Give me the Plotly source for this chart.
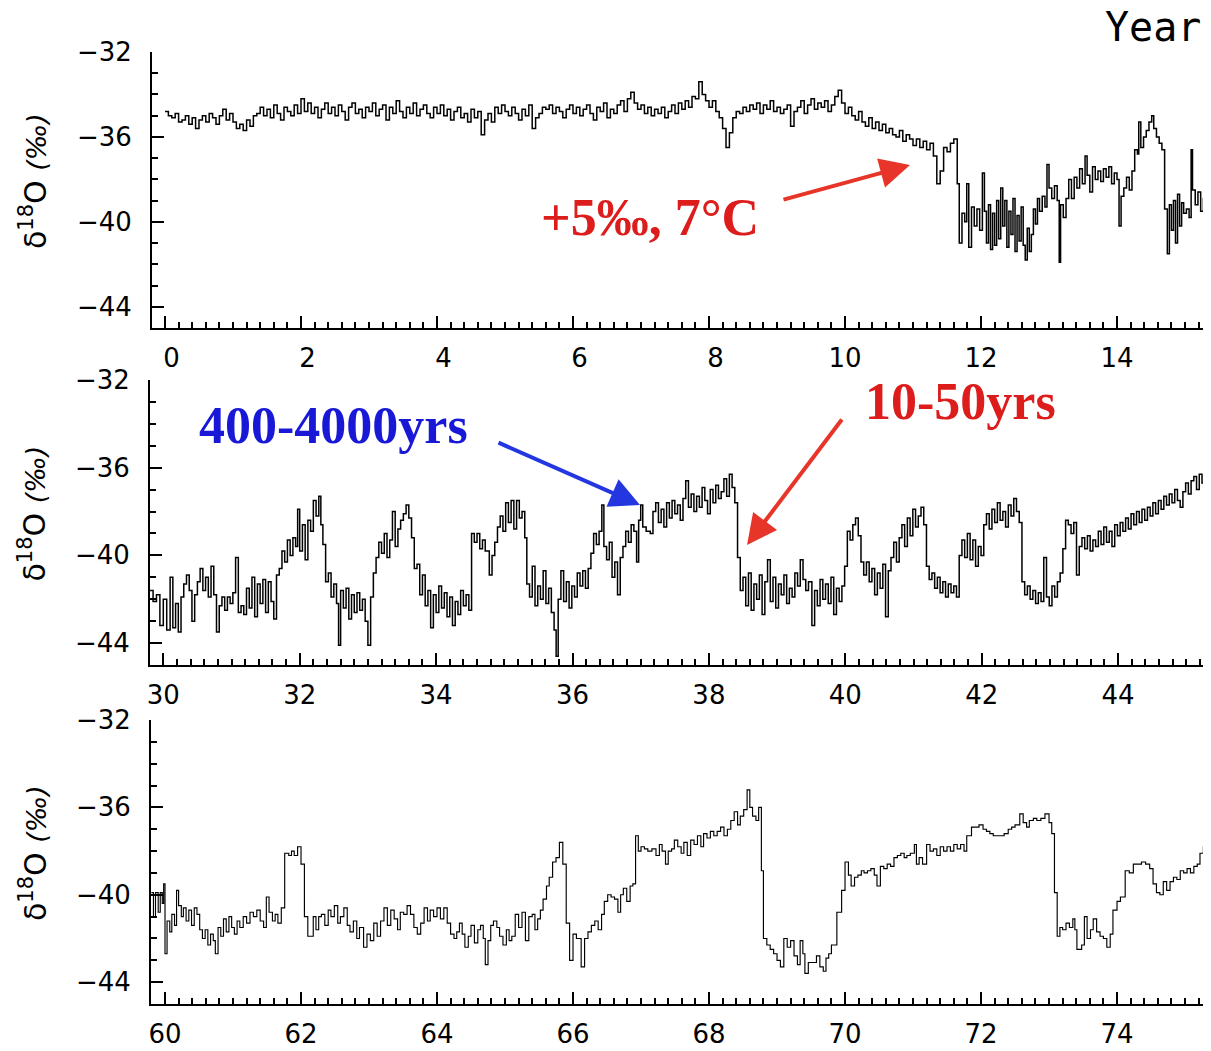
import plotly.graph_objects as go

# ---------------- Panel 1 : 0 - 15.4 kyr ----------------
age_1 = [
 0.00,0.05,0.10,0.15,0.20,0.25,0.30,0.35,0.40,0.45,0.50,0.55,0.60,0.65,0.70,0.75,0.80,0.85,0.90,0.95,
 1.00,1.05,1.10,1.15,1.20,1.25,1.30,1.35,1.40,1.45,1.50,1.55,1.60,1.65,1.70,1.75,1.80,1.85,1.90,1.95,
 2.00,2.05,2.10,2.15,2.20,2.25,2.30,2.35,2.40,2.45,2.50,2.55,2.60,2.65,2.70,2.75,2.80,2.85,2.90,2.95,
 3.00,3.05,3.10,3.15,3.20,3.25,3.30,3.35,3.40,3.45,3.50,3.55,3.60,3.65,3.70,3.75,3.80,3.85,3.90,3.95,
 4.00,4.05,4.10,4.15,4.20,4.25,4.30,4.35,4.40,4.45,4.50,4.55,4.60,4.65,4.70,4.75,4.80,4.85,4.90,4.95,
 5.00,5.05,5.10,5.15,5.20,5.25,5.30,5.35,5.40,5.45,5.50,5.55,5.60,5.65,5.70,5.75,5.80,5.85,5.90,5.95,
 6.00,6.05,6.10,6.15,6.20,6.25,6.30,6.35,6.40,6.45,6.50,6.55,6.60,6.65,6.70,6.75,6.80,6.85,6.90,6.95,
 7.00,7.05,7.10,7.15,7.20,7.25,7.30,7.35,7.40,7.45,7.50,7.55,7.60,7.65,7.70,7.75,7.80,7.85,7.90,7.95,
 8.00,8.05,8.10,8.15,8.20,8.25,8.30,8.35,8.40,8.45,8.50,8.55,8.60,8.65,8.70,8.75,8.80,8.85,8.90,8.95,
 9.00,9.05,9.10,9.15,9.20,9.25,9.30,9.35,9.40,9.45,9.50,9.55,9.60,9.65,9.70,9.75,9.80,9.85,9.90,9.95,
 10.00,10.05,10.10,10.15,10.20,10.25,10.30,10.35,10.40,10.45,10.50,10.55,10.60,10.65,10.70,10.75,10.80,10.85,10.90,10.95,
 11.00,11.05,11.10,11.15,11.20,11.25,11.30,11.35,11.40,11.45,11.50,11.55,11.60,
 11.65,11.68,11.72,11.76,11.79,11.82,11.86,11.90,11.94,11.98,
 12.02,12.05,12.08,12.11,12.14,12.17,12.20,12.23,12.26,12.29,
 12.32,12.35,12.38,12.41,12.44,12.47,12.50,12.53,12.56,12.59,
 12.62,12.65,12.68,12.71,12.74,12.77,12.80,12.83,12.86,12.90,
 12.94,12.97,13.00,13.04,13.08,13.12,13.15,13.17,13.21,13.25,
 13.29,13.33,13.37,13.41,13.45,13.49,13.53,13.56,13.60,13.64,
 13.68,13.72,13.76,13.80,13.84,13.88,13.92,13.96,14.00,14.03,
 14.06,14.10,14.14,14.18,14.22,14.26,14.30,14.32,14.35,14.39,
 14.43,14.47,14.51,14.54,14.58,14.62,14.66,14.70,14.74,14.77,
 14.80,14.83,14.86,14.89,14.92,14.95,14.98,15.02,15.06,15.09,
 15.11,15.15,15.19,15.23,15.27,15.31,15.34,15.38,
]
d18o_1 = [
 -34.8,-35.0,-35.1,-34.9,-35.3,-35.2,-35.0,-35.4,-35.1,-35.6,-35.2,-35.0,-35.3,-34.9,-35.1,-35.4,-35.0,-34.7,-35.2,-34.9,
 -35.3,-35.6,-35.4,-35.7,-35.2,-35.5,-35.0,-34.9,-34.6,-35.0,-34.7,-35.1,-34.5,-34.9,-35.2,-34.6,-34.8,-35.0,-34.5,-34.9,
 -34.2,-34.8,-34.4,-34.9,-34.6,-35.1,-34.7,-34.4,-34.9,-34.6,-35.0,-34.5,-34.8,-35.2,-34.6,-34.4,-34.9,-34.7,-35.1,-34.6,
 -34.8,-34.4,-35.0,-34.7,-34.5,-35.2,-34.6,-34.9,-34.3,-34.8,-35.1,-34.6,-34.9,-34.4,-35.0,-34.7,-34.5,-34.9,-35.1,-34.6,
 -34.9,-34.5,-35.0,-34.7,-35.2,-34.8,-34.6,-35.1,-34.9,-35.3,-34.7,-35.1,-34.8,-35.9,-35.2,-34.9,-35.3,-34.6,-34.9,-34.5,
 -34.8,-35.0,-34.6,-34.9,-35.2,-34.7,-35.0,-34.5,-35.6,-35.1,-34.9,-34.6,-34.7,-34.5,-34.9,-34.6,-34.8,-35.1,-34.7,-34.5,
 -34.9,-34.6,-35.0,-34.7,-34.5,-34.9,-35.2,-34.6,-34.8,-34.4,-35.1,-34.7,-34.9,-34.5,-34.3,-34.8,-34.2,-33.9,-34.4,-34.7,
 -34.5,-34.9,-34.6,-35.0,-34.7,-34.9,-34.6,-35.1,-34.8,-34.5,-34.9,-34.4,-34.7,-34.3,-34.6,-34.1,-34.2,-33.4,-34.0,-34.3,
 -34.6,-34.3,-34.8,-35.1,-35.6,-36.5,-35.8,-35.1,-34.8,-34.9,-34.6,-34.8,-34.5,-34.7,-34.4,-34.9,-34.5,-34.7,-34.3,-34.8,
 -34.6,-34.9,-34.7,-34.5,-35.5,-34.8,-34.6,-34.3,-34.9,-34.5,-34.2,-34.7,-34.4,-34.6,-34.3,-34.8,-34.5,-34.1,-33.8,-34.4,
 -34.9,-34.6,-35.0,-35.2,-34.8,-35.3,-35.5,-35.1,-35.6,-35.3,-35.7,-35.4,-35.8,-35.6,-35.9,-36.0,-35.7,-36.2,-35.9,-36.1,
 -36.4,-36.1,-36.5,-36.2,-36.6,-36.3,-36.9,-38.2,-37.6,-36.5,-36.7,-36.3,-36.1,
 -38.2,-41.0,-39.6,-40.0,-38.2,-41.2,-39.3,-40.2,-39.4,-40.4,
 -37.7,-39.5,-41.0,-39.2,-41.3,-39.6,-41.1,-39.0,-40.8,-38.4,
 -40.2,-39.0,-41.2,-39.5,-40.6,-38.9,-41.4,-39.7,-40.9,-39.3,
 -41.1,-41.8,-40.3,-41.4,-40.6,-39.4,-40.1,-38.9,-39.5,-38.8,
 -39.3,-37.3,-38.4,-38.9,-38.3,-39.0,-41.9,-39.2,-39.8,-38.9,
 -38.0,-38.9,-37.9,-38.4,-37.5,-38.2,-36.9,-37.8,-38.6,-37.4,
 -38.0,-37.6,-38.1,-37.5,-37.9,-37.4,-38.2,-37.7,-38.0,-40.2,
 -38.8,-38.4,-37.9,-38.5,-37.6,-36.6,-36.8,-35.3,-36.5,-36.0,
 -35.7,-35.3,-35.0,-35.6,-36.0,-36.3,-36.6,-39.4,-41.5,-39.2,
 -40.4,-39.0,-41.0,-38.7,-40.2,-39.1,-39.6,-39.4,-39.8,-36.6,
 -38.5,-39.2,-38.6,-39.5,-38.9,-40.8,-39.3,-40.0,
]

# ---------------- Panel 2 : 30 - 45.4 kyr ----------------
age_2 = [
 29.80,29.85,29.90,29.95,30.00,30.05,30.10,30.14,30.18,30.22,
 30.26,30.30,30.34,30.38,30.42,30.46,30.50,30.54,30.58,30.62,
 30.66,30.70,30.74,30.78,30.82,30.86,30.90,30.94,30.98,31.02,
 31.06,31.10,31.14,31.18,31.22,31.26,31.30,31.34,31.38,31.42,
 31.46,31.50,31.54,31.58,31.62,31.66,31.70,31.74,31.78,31.82,
 31.86,31.90,31.94,31.97,32.00,32.04,32.08,32.12,32.16,32.20,
 32.24,32.28,32.31,32.34,32.38,32.42,32.46,32.50,32.54,32.57,
 32.60,32.64,32.68,32.72,32.76,32.80,32.84,32.88,32.92,32.96,
 33.00,33.04,33.08,33.12,33.16,33.20,33.24,33.28,33.32,33.36,
 33.40,33.44,33.48,33.52,33.56,33.60,33.64,33.68,33.72,33.76,
 33.80,33.84,33.88,33.92,33.96,34.00,34.04,34.08,34.12,34.16,
 34.20,34.24,34.28,34.32,34.36,34.40,34.44,34.48,34.52,34.56,
 34.60,34.64,34.68,34.72,34.78,34.82,34.86,34.90,34.94,34.98,
 35.02,35.06,35.10,35.14,35.18,35.22,35.26,35.30,35.33,35.37,
 35.41,35.45,35.49,35.53,35.57,35.61,35.65,35.69,35.73,35.76,
 35.79,35.83,35.87,35.91,35.95,35.99,36.03,36.07,36.11,36.15,
 36.19,36.23,36.27,36.31,36.35,36.39,36.43,36.46,36.50,36.54,
 36.58,36.62,36.66,36.70,36.74,36.78,36.82,36.86,36.90,36.94,
 36.97,37.00,37.03,37.08,37.14,37.18,37.22,37.26,37.30,37.34,
 37.38,37.42,37.46,37.50,37.54,37.58,37.62,37.66,37.70,37.74,
 37.78,37.82,37.86,37.90,37.94,37.98,38.02,38.06,38.10,38.14,
 38.18,38.22,38.26,38.30,38.34,38.38,38.42,38.46,38.50,38.54,
 38.58,38.62,38.66,38.70,38.74,38.78,38.82,38.86,38.90,38.94,
 38.98,39.02,39.06,39.10,39.14,39.18,39.22,39.26,39.30,39.34,
 39.38,39.42,39.46,39.51,39.55,39.59,39.63,39.67,39.71,39.75,
 39.79,39.83,39.87,39.91,39.95,39.99,40.03,40.07,40.11,40.15,
 40.19,40.23,40.27,40.31,40.35,40.39,40.43,40.47,40.51,40.55,
 40.59,40.63,40.67,40.71,40.75,40.79,40.83,40.87,40.91,40.95,
 40.99,41.03,41.07,41.11,41.15,41.19,41.23,41.27,41.31,41.35,
 41.39,41.43,41.47,41.51,41.55,41.59,41.63,41.67,41.71,41.75,
 41.79,41.83,41.87,41.91,41.95,41.99,42.03,42.07,42.11,42.15,
 42.19,42.23,42.27,42.31,42.35,42.39,42.43,42.47,42.51,42.55,
 42.59,42.63,42.67,42.71,42.75,42.79,42.83,42.87,42.91,42.95,
 42.99,43.03,43.07,43.11,43.15,43.19,43.23,43.27,43.31,43.35,
 43.39,43.43,43.47,43.51,43.55,43.59,43.63,43.67,43.71,43.75,
 43.79,43.83,43.87,43.91,43.95,43.99,44.03,44.07,44.11,44.15,
 44.19,44.23,44.27,44.31,44.35,44.39,44.43,44.47,44.51,44.55,
 44.59,44.63,44.67,44.71,44.75,44.79,44.83,44.87,44.91,44.95,
 44.99,45.03,45.07,45.11,45.15,45.19,45.23,45.27,45.31,45.35,45.38,
]
d18o_2 = [
 -41.6,-42.1,-41.8,-43.2,-42.0,-43.4,-41.0,-43.3,-42.2,-43.5,
 -41.9,-41.3,-40.9,-41.6,-43.0,-41.8,-41.2,-40.6,-41.6,-41.0,
 -41.9,-40.5,-41.8,-43.5,-42.3,-41.9,-42.5,-41.9,-42.2,-41.7,
 -40.1,-42.6,-42.3,-42.7,-41.5,-42.4,-41.0,-42.8,-41.3,-42.2,
 -41.1,-42.6,-41.2,-42.1,-42.9,-40.9,-40.6,-39.8,-40.3,-39.3,
 -40.0,-39.2,-39.6,-37.9,-39.8,-38.6,-40.2,-38.4,-38.9,-37.5,
 -38.2,-37.3,-38.6,-39.5,-41.2,-40.8,-41.9,-41.3,-42.2,-44.1,
 -41.6,-42.4,-41.5,-42.9,-41.8,-42.6,-41.7,-42.5,-42.0,-43.0,
 -44.1,-41.9,-40.8,-40.1,-39.4,-39.9,-39.0,-40.1,-39.3,-38.0,
 -39.6,-38.8,-38.4,-38.1,-37.7,-38.3,-39.2,-40.6,-40.4,-41.8,
 -40.9,-42.3,-41.6,-43.3,-41.8,-42.6,-41.4,-42.4,-41.7,-42.8,
 -41.9,-43.2,-42.1,-42.7,-41.6,-42.3,-41.8,-42.5,-39.0,-39.4,
 -39.0,-39.7,-39.3,-39.8,-40.9,-40.0,-39.4,-38.7,-38.2,-38.9,
 -37.6,-38.5,-37.5,-38.8,-37.5,-38.3,-38.0,-39.2,-41.3,-41.9,
 -40.5,-42.3,-41.4,-42.0,-40.7,-42.2,-41.5,-42.6,-43.4,-44.6,
 -42.0,-40.7,-42.1,-41.2,-42.4,-41.4,-41.9,-40.8,-41.4,-40.7,
 -41.5,-40.6,-39.9,-39.0,-39.5,-38.9,-37.7,-39.6,-40.2,-39.4,
 -41.0,-40.3,-41.8,-40.1,-39.6,-38.9,-39.4,-38.6,-38.9,-40.3,
 -38.4,-37.7,-38.7,-38.9,-39.0,-38.0,-37.6,-38.5,-37.9,-38.7,
 -37.6,-38.3,-37.5,-38.1,-37.7,-38.4,-37.4,-36.6,-37.8,-37.2,
 -38.0,-37.3,-37.8,-36.9,-37.5,-38.1,-37.0,-37.6,-36.8,-37.4,
 -37.1,-36.5,-37.3,-36.3,-36.9,-37.6,-40.1,-41.6,-41.0,-42.3,
 -40.8,-42.5,-41.3,-42.0,-40.9,-42.7,-41.2,-40.2,-42.1,-41.0,
 -42.4,-41.3,-41.8,-40.9,-42.2,-41.5,-41.9,-40.8,-41.4,-40.2,
 -41.1,-41.6,-41.2,-43.2,-41.6,-42.3,-41.1,-42.0,-41.3,-42.2,
 -41.0,-42.7,-41.5,-42.1,-41.4,-40.5,-38.9,-39.3,-38.6,-38.3,
 -39.1,-40.3,-40.9,-40.3,-41.2,-40.6,-41.8,-40.8,-41.5,-40.4,
 -42.8,-40.7,-40.1,-39.4,-40.3,-39.2,-38.6,-39.6,-38.3,-39.1,
 -37.9,-38.7,-38.2,-37.8,-38.6,-40.5,-41.1,-40.8,-41.5,-41.0,
 -41.7,-41.2,-41.9,-41.3,-41.7,-41.4,-41.9,-40.0,-39.3,-40.1,
 -39.0,-40.2,-39.3,-40.5,-39.6,-40.0,-38.6,-38.1,-38.8,-37.9,
 -38.5,-37.6,-38.4,-38.0,-38.7,-37.7,-38.2,-37.4,-38.0,-38.5,
 -41.2,-41.8,-41.4,-42.0,-41.6,-42.2,-41.7,-42.1,-40.1,-41.9,
 -42.3,-41.4,-41.9,-41.2,-40.8,-39.7,-38.4,-38.6,-39.0,-38.5,
 -40.9,-39.6,-39.2,-39.7,-39.1,-39.8,-39.3,-39.6,-38.9,-39.5,
 -38.7,-39.4,-38.9,-39.6,-38.6,-39.1,-38.5,-38.9,-38.3,-38.8,
 -38.1,-38.6,-38.0,-38.5,-37.9,-38.4,-37.8,-38.2,-37.6,-38.1,
 -37.5,-37.9,-37.3,-37.7,-37.2,-37.6,-37.0,-37.5,-37.8,-37.1,
 -36.7,-37.2,-36.6,-36.4,-37.0,-36.3,-36.7,-36.2,-36.5,-38.4,-37.0,
]

# ---------------- Panel 3 : 60 - 75.4 kyr ----------------
age_3 = [
 59.80,59.83,59.86,59.90,59.93,59.96,59.98,60.00,60.03,60.07,
 60.10,60.14,60.17,60.20,60.24,60.27,60.31,60.35,60.39,60.43,
 60.47,60.51,60.55,60.59,60.63,60.67,60.71,60.74,60.78,60.82,
 60.86,60.90,60.94,60.98,61.02,61.06,61.10,61.15,61.20,61.25,
 61.30,61.35,61.40,61.45,61.49,61.53,61.58,61.62,61.66,61.71,
 61.76,61.82,61.86,61.90,61.95,62.00,62.05,62.10,62.18,62.22,
 62.26,62.30,62.35,62.40,62.44,62.49,62.54,62.58,62.63,62.68,
 62.72,62.77,62.82,62.86,62.92,62.97,63.02,63.07,63.12,63.17,
 63.22,63.27,63.32,63.37,63.42,63.46,63.51,63.56,63.61,63.66,
 63.71,63.76,63.81,63.86,63.90,63.95,64.00,64.05,64.10,64.15,
 64.20,64.25,64.29,64.33,64.37,64.41,64.46,64.50,64.55,64.60,
 64.64,64.68,64.71,64.75,64.79,64.83,64.88,64.92,64.97,65.02,
 65.06,65.10,65.15,65.20,65.25,65.30,65.35,65.40,65.44,65.48,
 65.52,65.56,65.61,65.65,65.70,65.75,65.80,65.85,65.90,65.95,
 66.00,66.05,66.12,66.17,66.22,66.27,66.32,66.37,66.42,66.46,
 66.51,66.56,66.61,66.66,66.70,66.74,66.79,66.84,66.88,66.92,
 66.96,67.00,67.05,67.10,67.16,67.22,67.27,67.31,67.36,67.40,
 67.45,67.49,67.54,67.59,67.63,67.68,67.73,67.78,67.83,67.88,
 67.92,67.97,68.02,68.07,68.12,68.17,68.22,68.27,68.32,68.37,
 68.42,68.46,68.51,68.56,68.60,68.64,68.69,68.73,68.77,68.80,
 68.85,68.90,68.95,69.00,69.05,69.10,69.15,69.20,69.25,69.30,
 69.34,69.38,69.41,69.46,69.52,69.58,69.63,69.68,69.72,69.76,
 69.80,69.88,69.95,70.00,70.05,70.09,70.14,70.19,70.24,70.28,
 70.33,70.38,70.43,70.47,70.52,70.57,70.62,70.67,70.72,70.77,
 70.82,70.87,70.91,70.96,71.02,71.05,71.09,71.14,71.20,71.25,
 71.30,71.35,71.40,71.45,71.50,71.55,71.60,71.65,71.70,71.75,
 71.79,71.86,71.92,71.97,72.03,72.08,72.13,72.18,72.23,72.28,
 72.34,72.40,72.45,72.50,72.57,72.62,72.67,72.71,72.77,72.82,
 72.88,72.94,73.00,73.04,73.08,73.12,73.16,73.20,73.25,73.30,
 73.35,73.38,73.41,73.48,73.52,73.56,73.61,73.65,73.70,73.75,
 73.80,73.85,73.90,73.94,74.00,74.05,74.12,74.18,74.24,74.30,
 74.36,74.42,74.48,74.53,74.58,74.63,74.68,74.73,74.78,74.83,
 74.88,74.93,74.98,75.03,75.08,75.13,75.18,75.22,75.27,75.32,75.38,
]
d18o_3 = [
 -39.9,-41.0,-39.9,-40.8,-39.9,-40.4,-39.5,-42.7,-41.2,-41.7,
 -40.9,-41.4,-39.8,-40.5,-41.0,-40.6,-41.2,-40.7,-41.4,-40.6,
 -40.9,-41.6,-42.0,-41.6,-42.3,-41.8,-42.1,-42.7,-41.5,-41.9,
 -41.1,-41.7,-41.0,-41.5,-41.8,-41.2,-41.5,-41.0,-41.3,-40.8,
 -41.0,-40.7,-41.2,-41.5,-40.1,-40.8,-41.2,-40.9,-41.3,-40.6,
 -38.1,-38.2,-38.0,-38.2,-37.8,-38.6,-41.0,-41.9,-41.0,-41.6,
 -41.0,-40.9,-41.4,-40.7,-41.0,-40.5,-41.3,-41.0,-40.6,-41.4,
 -41.7,-41.2,-42.0,-41.5,-42.4,-41.8,-42.1,-41.3,-41.9,-41.2,
 -40.6,-41.4,-40.7,-41.1,-41.6,-40.8,-40.9,-40.5,-40.9,-41.5,
 -41.8,-41.3,-40.6,-41.2,-40.7,-41.0,-40.6,-41.1,-40.6,-41.3,
 -41.8,-42.0,-41.7,-41.3,-41.8,-42.4,-41.9,-41.4,-42.2,-41.6,
 -41.4,-42.0,-43.2,-42.1,-41.4,-41.2,-41.5,-41.9,-42.3,-41.6,
 -42.1,-41.9,-40.9,-41.5,-40.8,-42.1,-41.0,-40.9,-41.6,-41.1,
 -40.7,-40.2,-39.6,-39.2,-38.5,-38.3,-37.6,-38.6,-41.3,-43.0,
 -41.8,-42.0,-43.3,-42.0,-41.7,-41.4,-41.2,-41.6,-40.9,-40.3,
 -40.0,-40.1,-40.2,-40.8,-40.0,-39.7,-40.3,-39.6,-39.5,-37.3,
 -38.0,-37.8,-37.9,-38.0,-37.9,-38.2,-37.7,-38.0,-38.6,-38.0,
 -37.9,-37.5,-37.8,-38.1,-37.6,-38.2,-37.5,-37.7,-37.3,-37.8,
 -37.2,-37.4,-37.1,-37.3,-37.1,-36.9,-37.3,-37.0,-36.6,-36.2,
 -36.8,-36.4,-36.1,-35.2,-36.0,-36.4,-36.6,-36.0,-38.9,-42.0,
 -42.3,-42.5,-42.7,-43.0,-43.3,-42.0,-42.4,-42.1,-42.8,-43.2,
 -42.1,-42.7,-43.6,-43.1,-43.1,-42.8,-43.3,-43.5,-42.9,-42.7,
 -42.3,-40.8,-39.8,-38.5,-39.1,-39.6,-39.2,-39.1,-38.9,-39.0,
 -38.9,-38.8,-39.1,-39.6,-38.7,-38.8,-38.6,-38.7,-38.3,-38.2,
 -38.1,-38.3,-38.2,-38.1,-37.7,-38.6,-38.3,-38.6,-37.7,-38.0,
 -37.9,-38.2,-37.8,-38.0,-37.8,-38.0,-37.7,-37.9,-37.7,-38.0,
 -37.3,-36.9,-36.9,-36.8,-37.0,-37.1,-37.2,-37.3,-37.3,-37.3,
 -37.2,-37.0,-36.9,-36.8,-36.3,-36.7,-36.9,-36.6,-36.5,-36.6,
 -36.5,-36.3,-36.7,-37.2,-39.9,-41.9,-41.5,-41.6,-41.3,-41.5,
 -41.1,-41.6,-42.5,-42.3,-41.0,-42.0,-41.6,-41.1,-41.7,-41.9,
 -42.0,-42.4,-41.8,-40.7,-40.3,-40.1,-38.9,-39.0,-38.6,-38.6,
 -38.5,-38.6,-38.8,-39.5,-39.9,-40.0,-39.4,-39.8,-39.4,-39.2,
 -39.3,-38.9,-39.0,-38.8,-39.0,-38.7,-38.6,-38.1,-37.8,-38.0,-38.0,
]

assert len(age_1) == len(d18o_1)
assert len(age_2) == len(d18o_2)
assert len(age_3) == len(d18o_3)

# x tick values / labels for each panel
xtick_vals = [
    [0, 2, 4, 6, 8, 10, 12, 14],
    [30, 32, 34, 36, 38, 40, 42, 44],
    [60, 62, 64, 66, 68, 70, 72, 74],
]
# single-digit labels sit a little right of their tick in the original
xtick_text = [
    ["\u2002" + str(v) if v < 10 else str(v) for v in vals] for vals in xtick_vals
]
panel_starts = [0, 30, 60]
x_ranges = [[-0.191, 15.382], [29.805, 45.362], [59.794, 75.382]]
y_range = [-45, -32]

# The page body has an 8 px margin, so the figure is drawn 8 px in from the
# top-left corner; size it to fill the rest of the 1211 x 1051 window.
OFF = 8
W, H = 1211 - OFF, 1051 - OFF

def fx(x):
    return (x - OFF) / W

def fy(y):
    return 1 - (y - OFF) / H

# panel pixel boxes in window coordinates: (left, top, bottom)
boxes = [(152, 52, 328), (150, 380, 665), (151, 720, 1004)]

fig = go.Figure()
series = [(age_1, d18o_1, 1.5), (age_2, d18o_2, 1.5), (age_3, d18o_3, 1.15)]
for i, (a, v, lw) in enumerate(series):
    suf = "" if i == 0 else str(i + 1)
    fig.add_trace(go.Scatter(
        x=a, y=v, mode="lines",
        line=dict(shape="hv", color="black", width=lw),
        xaxis="x" + suf, yaxis="y" + suf, showlegend=False, hoverinfo="skip"))

tick_font = dict(family="DejaVu Sans", size=26, color="black")
layout = dict(
    width=W, height=H, margin=dict(l=0, r=0, t=0, b=0, pad=0),
    paper_bgcolor="white", plot_bgcolor="white", showlegend=False,
)
for i, (left, top, bottom) in enumerate(boxes):
    suf = "" if i == 0 else str(i + 1)
    layout["xaxis" + suf] = dict(
        domain=[fx(left), 1.0], anchor="y" + suf, range=x_ranges[i],
        tickmode="array", tickvals=xtick_vals[i], ticktext=xtick_text[i],
        ticks="inside", ticklen=12, tickwidth=2, tickcolor="black",
        minor=dict(tick0=panel_starts[i], dtick=0.2, ticks="inside", ticklen=6,
                   tickwidth=2, tickcolor="black", showgrid=False),
        showline=True, linecolor="black", linewidth=2, automargin=False,
        showgrid=False, zeroline=False, tickfont=tick_font,
        ticklabelstandoff=6,
    )
    layout["yaxis" + suf] = dict(
        domain=[fy(bottom), fy(top)], anchor="x" + suf, range=y_range,
        tickmode="linear", tick0=-44, dtick=4,
        ticks="inside", ticklen=12, tickwidth=2, tickcolor="black",
        minor=dict(tick0=-44, dtick=1, ticks="inside", ticklen=6,
                   tickwidth=2, tickcolor="black", showgrid=False),
        showline=True, linecolor="black", linewidth=2, automargin=False,
        showgrid=False, zeroline=False, tickfont=tick_font,
        ticklabelstandoff=13,
    )
fig.update_layout(**layout)

annotations = []
# y-axis titles
for (left, top, bottom) in boxes:
    annotations.append(dict(
        text="δ<sup>18</sup>O <span style='font-size:27px'><i>(‰)</i></span>",
        textangle=-90,
        x=fx(33), y=fy((top + bottom) / 2 - 9), xref="paper", yref="paper",
        xanchor="center", yanchor="middle", showarrow=False,
        font=dict(family="DejaVu Sans", size=30, color="black")))

# "Year" label (top right)
annotations.append(dict(
    text="Year", x=fx(1103), y=fy(27), xref="paper", yref="paper",
    xanchor="left", yanchor="middle", showarrow=False,
    font=dict(family="DejaVu Sans Mono", size=40, color="black")))

RED_T = "#DD1C1C"
RED_A = "#E8352A"
BLUE_T = "#1818D6"
BLUE_A = "#2436E0"
serif = "Liberation Serif"

annotations += [
    dict(text="<b>+5‰, 7°C</b>", x=fx(650), y=fy(217), xref="paper", yref="paper",
         xanchor="center", yanchor="middle", showarrow=False,
         font=dict(family=serif, size=52, color=RED_T)),
    dict(text="<b>400-4000yrs</b>", x=fx(333), y=fy(425), xref="paper", yref="paper",
         xanchor="center", yanchor="middle", showarrow=False,
         font=dict(family=serif, size=52, color=BLUE_T)),
    dict(text="<b>10-50yrs</b>", x=fx(960), y=fy(401), xref="paper", yref="paper",
         xanchor="center", yanchor="middle", showarrow=False,
         font=dict(family=serif, size=52, color=RED_T)),
    # arrows
    dict(text="", x=fx(910), y=fy(165), xref="paper", yref="paper",
         ax=-128, ay=35, showarrow=True, arrowhead=2, arrowsize=1.5,
         arrowwidth=4, arrowcolor=RED_A, standoff=0, startstandoff=0),
    dict(text="", x=fx(640), y=fy(505), xref="paper", yref="paper",
         ax=-143, ay=-63, showarrow=True, arrowhead=2, arrowsize=1.5,
         arrowwidth=4, arrowcolor=BLUE_A, standoff=0, startstandoff=0),
    dict(text="", x=fx(747), y=fy(545), xref="paper", yref="paper",
         ax=96, ay=-127, showarrow=True, arrowhead=2, arrowsize=1.5,
         arrowwidth=4, arrowcolor=RED_A, standoff=0, startstandoff=0),
]
fig.update_layout(annotations=annotations)

fig.write_html("out.html")
